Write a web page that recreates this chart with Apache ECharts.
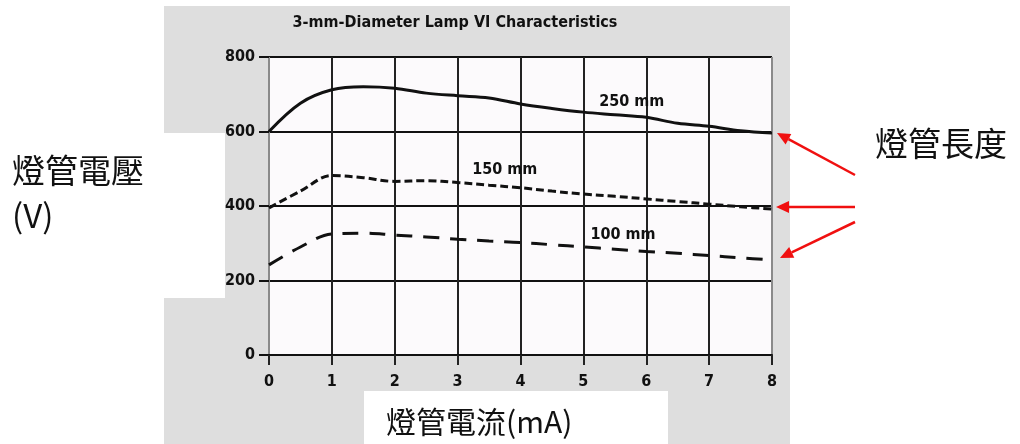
<!DOCTYPE html>
<html>
<head>
<meta charset="utf-8">
<script src="https://cdn.jsdelivr.net/npm/echarts@6/dist/echarts.min.js"></script>
<style>
  html, body { margin: 0; padding: 0; background: #fff; }
  #chart { width: 1020px; height: 444px; }
</style>
</head>
<body>
<div id="chart"></div>
<script>
// 燈管電流 (mA) 與各長度燈管電壓 (V)
const currents = [0, 0.5, 1, 1.5, 2, 2.5, 3, 3.5, 4, 4.5, 5, 5.5, 6, 6.5, 7, 7.5, 8]
const volt250 = [600, 676, 712, 720, 716, 703, 696, 690, 674, 662, 652, 645, 638, 622, 614, 602, 596]
const volt150 = [395, 440, 482, 476, 466, 468, 463, 456, 449, 440, 432, 426, 419, 412, 405, 398, 392]
const volt100 = [242, 290, 325, 327, 322, 317, 311, 306, 302, 296, 290, 284, 278, 273, 267, 261, 255]
const xTicks = [0, 1, 2, 3, 4, 5, 6, 7, 8]
const yTicks = [0, 200, 400, 600, 800]
const curveNames = ['250 mm', '150 mm', '100 mm']
// 曲線標籤位置 [mA, V]
const labelAt = [[5.77, 679], [3.75, 497], [5.63, 322]]

const narrow = "'Liberation Sans Narrow', 'DejaVu Sans Condensed', 'Roboto', sans-serif"
const cjk = "'Noto Sans CJK TC', 'Noto Sans CJK SC', sans-serif"

const chart = echarts.init(document.getElementById('chart'))

function pairs(vals) {
  return currents.map((c, i) => [c, vals[i]])
}

// 紅色箭頭
function arrow(x1, y1, x2, y2) {
  const ang = Math.atan2(y2 - y1, x2 - x1)
  const len = 13, half = 6
  const bx = x2 - len * Math.cos(ang), by = y2 - len * Math.sin(ang)
  const px = -Math.sin(ang) * half, py = Math.cos(ang) * half
  return [
    { type: 'line', z: 20, shape: { x1, y1, x2: bx, y2: by }, style: { stroke: '#f01010', lineWidth: 2.5 } },
    { type: 'polygon', z: 20, shape: { points: [[x2, y2], [bx + px, by + py], [bx - px, by - py]] }, style: { fill: '#f01010' } }
  ]
}

function curve(name, vals, dash, idx) {
  return {
    name,
    type: 'line',
    data: pairs(vals),
    smooth: 0.35,
    symbol: 'none',
    z: 5,
    lineStyle: { color: '#111', width: 3, type: dash },
    markPoint: {
      symbol: 'circle',
      symbolSize: 0,
      data: [{ coord: labelAt[idx] }],
      label: {
        show: true,
        formatter: name,
        color: '#111',
        fontFamily: narrow,
        fontWeight: 'bold',
        fontSize: 16
      }
    }
  }
}

const option = {
  backgroundColor: '#fff',
  animation: false,
  graphic: [
    { type: 'rect', z: -10, shape: { x: 164, y: 6, width: 626, height: 438 }, style: { fill: '#dedede' } },
    { type: 'rect', z: -9, shape: { x: 0, y: 133, width: 225, height: 165 }, style: { fill: '#fff' } },
    { type: 'rect', z: -9, shape: { x: 364, y: 391, width: 304, height: 53 }, style: { fill: '#fff' } },
    {
      type: 'text', z: 10, x: 455, y: 23,
      style: {
        text: '3-mm-Diameter Lamp VI Characteristics', fill: '#111',
        font: 'bold 16px ' + narrow, textAlign: 'center', textVerticalAlign: 'middle'
      }
    },
    {
      type: 'text', z: 10, x: 12, y: 170,
      style: { text: '燈管電壓', fill: '#111', font: '33px ' + cjk, textVerticalAlign: 'middle' }
    },
    {
      type: 'text', z: 10, x: 12, y: 215,
      style: { text: '(V)', fill: '#111', font: '33px ' + cjk, textVerticalAlign: 'middle' }
    },
    {
      type: 'text', z: 10, x: 386, y: 422,
      style: { text: '燈管電流(mA)', fill: '#111', font: '30px ' + cjk, textVerticalAlign: 'middle' }
    },
    {
      type: 'text', z: 10, x: 875, y: 143,
      style: { text: '燈管長度', fill: '#111', font: '33px ' + cjk, textVerticalAlign: 'middle' }
    },
    ...arrow(855, 175, 777, 133),
    ...arrow(855, 207, 776, 207),
    ...arrow(855, 222, 780, 258)
  ],
  grid: {
    left: 269, right: 248, top: 57, bottom: 89,
    show: true, backgroundColor: '#fcfafc', borderWidth: 0
  },
  xAxis: {
    type: 'value',
    min: 0, max: 8, interval: 1,
    axisLine: { show: true, lineStyle: { color: '#111', width: 2 } },
    axisTick: { show: true, length: 10, lineStyle: { color: '#222', width: 2 } },
    axisLabel: {
      margin: 19, color: '#111', fontFamily: narrow, fontWeight: 'bold', fontSize: 16,
      formatter: v => (xTicks.includes(v) ? String(v) : '')
    },
    splitLine: {
      show: true,
      lineStyle: { width: 2, color: ['#8a8a8a', '#222', '#222', '#222', '#222', '#222', '#222', '#222', '#8a8a8a'] }
    }
  },
  yAxis: {
    type: 'value',
    min: 0, max: 800, interval: 200,
    axisLine: { show: false },
    axisTick: { show: true, length: 10, lineStyle: { color: '#111', width: 2 } },
    axisLabel: {
      margin: 14, color: '#111', fontFamily: narrow, fontWeight: 'bold', fontSize: 16,
      formatter: v => (yTicks.includes(v) ? String(v) : '')
    },
    splitLine: { show: true, lineStyle: { color: '#111', width: 2 } }
  },
  series: [
    curve(curveNames[0], volt250, 'solid', 0),
    curve(curveNames[1], volt150, [8, 4], 1),
    curve(curveNames[2], volt100, [16, 11], 2)
  ]
}

chart.setOption(option)
</script>
</body>
</html>
